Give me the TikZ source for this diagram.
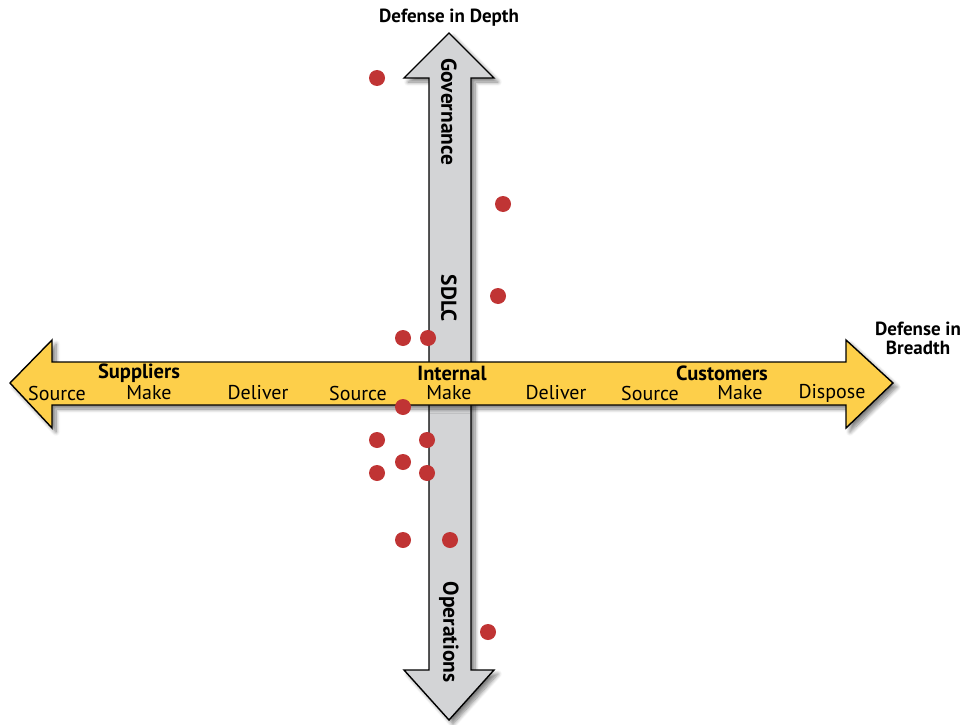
\documentclass[tikz,border=0pt]{standalone}
\usepackage{fontspec}
\setmainfont{PT Sans}
\usetikzlibrary{shadows.blur}
\definecolor{arrowyellow}{RGB}{253,207,74}
\definecolor{arrowgray}{RGB}{211,212,214}
\definecolor{dotred}{RGB}{192,52,52}
\begin{document}
\begin{tikzpicture}[x=1pt,y=-1pt,
  arrowshape/.style={draw=black,line width=1.4pt,line join=miter,
    blur shadow={shadow xshift=4pt,shadow yshift=-4pt,shadow blur steps=8,shadow blur radius=4pt,shadow opacity=50}},
  dot/.style={circle,fill=dotred,inner sep=0pt,minimum size=16pt},
  lbl/.style={font=\fontsize{20}{20}\selectfont,inner sep=0pt},
  hdr/.style={font=\fontsize{20.5}{20}\selectfont\bfseries,inner sep=0pt},
  ttl/.style={font=\fontsize{19}{19}\selectfont\bfseries,inner sep=0pt,align=center},
  vlbl/.style={font=\fontsize{21.5}{20}\selectfont\bfseries,inner sep=0pt,rotate=-90}]
\useasboundingbox (0,0) rectangle (969,725);
% vertical arrow
\path[arrowshape,fill=arrowgray]
  (429,78) -- (404,78) -- (449,33) -- (494,78) -- (471,78) -- (471,670)
  -- (494,670) -- (449,720) -- (404,670) -- (429,670) -- cycle;
% horizontal arrow
\path[arrowshape,fill=arrowyellow]
  (52,362) -- (52,340) -- (10,383) -- (52,428) -- (52,405) -- (846,405)
  -- (846,428) -- (893,383) -- (846,340) -- (846,362) -- cycle;
% vertical labels
\node[vlbl] (gov) at (449,112) {Governance};
\node[vlbl] (sdlc) at (449,298) {SDLC};
\node[vlbl] (ops) at (449,632) {Operations};
% horizontal labels
\node[hdr] (sup) at (139,373) {Suppliers};
\node[hdr] (int) at (452,373) {Internal};
\node[hdr] (cus) at (722,373) {Customers};
\node[lbl] (s1) at (57,393) {Source};
\node[lbl] (m1) at (149,393) {Make};
\node[lbl] (d1) at (258,393) {Deliver};
\node[lbl] (s2) at (358,393) {Source};
\node[lbl] (m2) at (449,393) {Make};
\node[lbl] (d2) at (556,393) {Deliver};
\node[lbl] (s3) at (650,393) {Source};
\node[lbl] (m3) at (740,393) {Make};
\node[lbl] (dp) at (832,393) {Dispose};
% titles
\node[ttl] (depth) at (449,18) {Defense in Depth};
\node[ttl] (breadth) at (918,338) {Defense in\\Breadth};
% dots
\node[dot] (p1) at (377,78) {};
\node[dot] (p2) at (503,204) {};
\node[dot] (p3) at (498,296) {};
\node[dot] (p4) at (403,338) {};
\node[dot] (p5) at (428,338) {};
\node[dot] (p6) at (403,407) {};
\node[dot] (p7) at (377,440) {};
\node[dot] (p8) at (427,440) {};
\node[dot] (p9) at (403,462) {};
\node[dot] (p10) at (377,473) {};
\node[dot] (p11) at (427,473) {};
\node[dot] (p12) at (403,540) {};
\node[dot] (p13) at (450,540) {};
\node[dot] (p14) at (488,632) {};
\end{tikzpicture}
\end{document}
